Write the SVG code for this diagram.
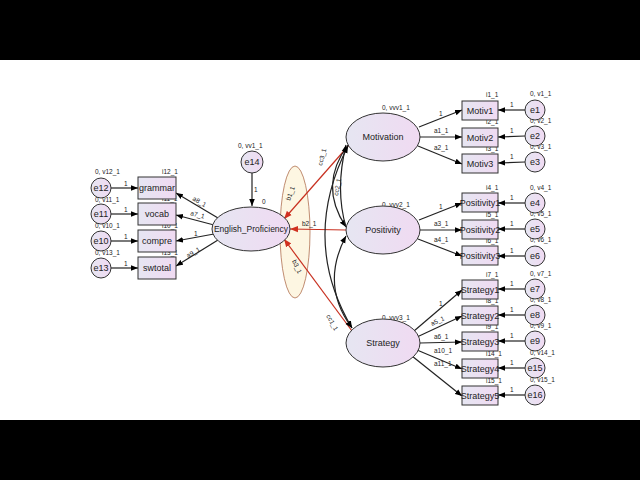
<svg xmlns="http://www.w3.org/2000/svg" width="640" height="480" viewBox="0 0 640 480">
<defs>
<linearGradient id="g" x1="0" x2="1" y1="0" y2="0"><stop offset="0" stop-color="#e6e6f2"/><stop offset="1" stop-color="#f0daf2"/></linearGradient>
<marker id="a" viewBox="0 0 10 10" refX="10" refY="5" markerWidth="7" markerHeight="7" orient="auto-start-reverse" markerUnits="userSpaceOnUse"><path d="M0,1 L10,5 L0,9 z" fill="#000"/></marker>
<marker id="r" viewBox="0 0 10 10" refX="10" refY="5" markerWidth="8" markerHeight="8" orient="auto" markerUnits="userSpaceOnUse"><path d="M0,1 L10,5 L0,9 z" fill="#d03020"/></marker>
<style>
.n{fill:url(#g);stroke:#333;stroke-width:1}
text{font-family:"Liberation Sans",Arial,sans-serif;fill:#222}
.t{font-size:9px;text-anchor:middle}
.s{font-size:6.5px;fill:#333}
.c line,.c path{stroke:#222;stroke-width:1.2;fill:none;marker-end:url(#a)}
.c .red{stroke:#c83020;marker-end:url(#r)}
</style>
</defs>
<rect x="0" y="0" width="640" height="60" fill="#000"/>
<rect x="0" y="420" width="640" height="60" fill="#000"/>
<rect x="0" y="60" width="640" height="360" fill="#fff"/>
<ellipse cx="295" cy="232" rx="15" ry="66" fill="#fdf6e2" stroke="#b07050" stroke-width="0.8"/>
<g class="c">
<line x1="111" y1="188" x2="138" y2="188"/><line x1="111" y1="214" x2="138" y2="214"/><line x1="111" y1="241" x2="138" y2="241"/><line x1="111" y1="268" x2="138" y2="268"/>
<line x1="218" y1="218" x2="176" y2="193"/><line x1="214" y1="225" x2="176" y2="215"/><line x1="214" y1="234" x2="176" y2="241"/><line x1="218" y1="240" x2="176" y2="266"/>
<line x1="252" y1="173" x2="252" y2="206"/>
<line class="red" x1="350" y1="144" x2="284" y2="219"/><line class="red" x1="346" y1="230" x2="290" y2="229"/><line class="red" x1="352" y1="331" x2="284" y2="239"/>
<path d="M348,145 Q318,185 346,227"/><path d="M346,145 Q335,190 346,227" style="marker-end:none;marker-start:url(#a)"/>
<path d="M348,146 Q300,240 352,328" style="marker-start:url(#a)"/>
<path d="M346,236 Q320,285 352,328" style="marker-start:url(#a)"/>
<line x1="419" y1="127" x2="462" y2="110"/><line x1="420" y1="137" x2="462" y2="137"/><line x1="418" y1="146" x2="462" y2="164"/>
<line x1="419" y1="220" x2="462" y2="203"/><line x1="420" y1="230" x2="462" y2="230"/><line x1="418" y1="239" x2="462" y2="256"/>
<line x1="414" y1="331" x2="462" y2="290"/><line x1="417" y1="337" x2="462" y2="316"/><line x1="420" y1="343" x2="462" y2="342"/><line x1="417" y1="350" x2="462" y2="369"/><line x1="412" y1="356" x2="462" y2="396"/>
<line x1="525" y1="110" x2="498" y2="110"/><line x1="525" y1="136" x2="498" y2="137"/><line x1="525" y1="162" x2="498" y2="163"/>
<line x1="525" y1="203" x2="498" y2="203"/><line x1="525" y1="229" x2="498" y2="229"/><line x1="525" y1="256" x2="498" y2="256"/>
<line x1="525" y1="289" x2="498" y2="289"/><line x1="525" y1="315" x2="498" y2="315"/><line x1="525" y1="341" x2="498" y2="341"/><line x1="525" y1="368" x2="498" y2="368"/><line x1="525" y1="395" x2="498" y2="395"/>
</g>
<g class="s">
<text x="124" y="186">1</text><text x="124" y="212">1</text><text x="124" y="239">1</text><text x="124" y="266">1</text>
<text x="192" y="200" transform="rotate(30 192 200)">a8_1</text><text x="190" y="215" transform="rotate(15 190 215)">a7_1</text><text x="194" y="236">1</text><text x="188" y="258" transform="rotate(-30 188 258)">a9_1</text>
<text x="254" y="192">1</text><text x="262" y="204">0</text>
<text x="95" y="174">0, v12_1</text><text x="95" y="202">0, v11_1</text><text x="95" y="228">0, v10_1</text><text x="95" y="255">0, v13_1</text>
<text x="162" y="174">i12_1</text><text x="162" y="201">i11_1</text><text x="162" y="228">i10_1</text><text x="162" y="255">i13_1</text>
<text x="238" y="148">0, vv1_1</text>
<text x="290" y="201" transform="rotate(-70 290 201)">b1_1</text><text x="302" y="226">b2_1</text><text x="292" y="261" transform="rotate(65 292 261)">b3_1</text>
<text x="322" y="166" transform="rotate(-75 322 166)">cc3_1</text><text x="338" y="196" transform="rotate(-80 338 196)">cc2_1</text><text x="326" y="316" transform="rotate(60 326 316)">cc1_1</text>
<text x="382" y="110">0, vvv1_1</text><text x="382" y="207">0, vvv2_1</text><text x="382" y="320">0, vvv3_1</text>
<text x="439" y="116">1</text><text x="434" y="133">a1_1</text><text x="434" y="150">a2_1</text>
<text x="439" y="209">1</text><text x="434" y="226">a3_1</text><text x="434" y="242">a4_1</text>
<text x="439" y="306">1</text><text x="432" y="326" transform="rotate(-25 432 326)">a5_1</text><text x="434" y="339">a6_1</text><text x="434" y="353">a10_1</text><text x="434" y="366">a11_1</text>
<text x="486" y="97">i1_1</text><text x="486" y="124">i2_1</text><text x="486" y="151">i3_1</text>
<text x="486" y="190">i4_1</text><text x="486" y="217">i5_1</text><text x="486" y="243">i6_1</text>
<text x="486" y="277">i7_1</text><text x="486" y="303">i8_1</text><text x="486" y="329">i9_1</text><text x="486" y="356">i14_1</text><text x="486" y="383">i15_1</text>
<text x="510" y="107">1</text><text x="510" y="133">1</text><text x="510" y="159">1</text><text x="510" y="200">1</text><text x="510" y="226">1</text><text x="510" y="253">1</text>
<text x="510" y="286">1</text><text x="510" y="312">1</text><text x="510" y="338">1</text><text x="510" y="365">1</text><text x="510" y="392">1</text>
<text x="530" y="96">0, v1_1</text><text x="530" y="123">0, v2_1</text><text x="530" y="149">0, v3_1</text><text x="530" y="190">0, v4_1</text><text x="530" y="216">0, v5_1</text><text x="530" y="242">0, v6_1</text>
<text x="530" y="276">0, v7_1</text><text x="530" y="302">0, v8_1</text><text x="530" y="328">0, v9_1</text><text x="530" y="355">0, v14_1</text><text x="530" y="382">0, v15_1</text>
</g>
<g id="e12"><circle class="n" cx="101" cy="188" r="10"/><text class="t" x="101" y="191">e12</text></g>
<g id="e11"><circle class="n" cx="101" cy="214" r="10"/><text class="t" x="101" y="217">e11</text></g>
<g id="e10"><circle class="n" cx="101" cy="241" r="10"/><text class="t" x="101" y="244">e10</text></g>
<g id="e13"><circle class="n" cx="101" cy="268" r="10"/><text class="t" x="101" y="271">e13</text></g>
<g id="grammar"><rect class="n" x="138" y="177" width="38" height="22"/><text class="t" x="157" y="191">grammar</text></g>
<g id="vocab"><rect class="n" x="138" y="203" width="38" height="22"/><text class="t" x="157" y="217">vocab</text></g>
<g id="compre"><rect class="n" x="138" y="230" width="38" height="22"/><text class="t" x="157" y="244">compre</text></g>
<g id="swtotal"><rect class="n" x="138" y="257" width="38" height="22"/><text class="t" x="157" y="271">swtotal</text></g>
<g id="e14"><circle class="n" cx="252" cy="162" r="11"/><text class="t" x="252" y="165">e14</text></g>
<g id="EP"><ellipse class="n" cx="251" cy="229" rx="39" ry="22"/><text class="t" x="251" y="232" style="font-size:8.5px">English_Proficiency</text></g>
<g id="Motivation"><ellipse class="n" cx="383" cy="137" rx="37" ry="24"/><text class="t" x="383" y="140">Motivation</text></g>
<g id="Positivity"><ellipse class="n" cx="383" cy="230" rx="37" ry="24"/><text class="t" x="383" y="233">Positivity</text></g>
<g id="Strategy"><ellipse class="n" cx="383" cy="343" rx="37" ry="24"/><text class="t" x="383" y="346">Strategy</text></g>
<g id="Motiv1"><rect class="n" x="462" y="101" width="36" height="19"/><text class="t" x="480" y="114">Motiv1</text></g>
<g id="Motiv2"><rect class="n" x="462" y="128" width="36" height="19"/><text class="t" x="480" y="141">Motiv2</text></g>
<g id="Motiv3"><rect class="n" x="462" y="154" width="36" height="19"/><text class="t" x="480" y="167">Motiv3</text></g>
<g id="Positivity1"><rect class="n" x="462" y="193" width="36" height="19"/><text class="t" x="480" y="206">Positivity1</text></g>
<g id="Positivity2"><rect class="n" x="462" y="220" width="36" height="19"/><text class="t" x="480" y="233">Positivity2</text></g>
<g id="Positivity3"><rect class="n" x="462" y="246" width="36" height="19"/><text class="t" x="480" y="259">Positivity3</text></g>
<g id="Strategy1"><rect class="n" x="462" y="280" width="36" height="19"/><text class="t" x="480" y="293">Strategy1</text></g>
<g id="Strategy2"><rect class="n" x="462" y="306" width="36" height="19"/><text class="t" x="480" y="319">Strategy2</text></g>
<g id="Strategy3"><rect class="n" x="462" y="332" width="36" height="19"/><text class="t" x="480" y="345">Strategy3</text></g>
<g id="Strategy4"><rect class="n" x="462" y="359" width="36" height="19"/><text class="t" x="480" y="372">Strategy4</text></g>
<g id="Strategy5"><rect class="n" x="462" y="386" width="36" height="19"/><text class="t" x="480" y="399">Strategy5</text></g>
<g id="e1"><circle class="n" cx="535" cy="110" r="10"/><text class="t" x="535" y="113">e1</text></g>
<g id="e2"><circle class="n" cx="535" cy="136" r="10"/><text class="t" x="535" y="139">e2</text></g>
<g id="e3"><circle class="n" cx="535" cy="162" r="10"/><text class="t" x="535" y="165">e3</text></g>
<g id="e4"><circle class="n" cx="535" cy="203" r="10"/><text class="t" x="535" y="206">e4</text></g>
<g id="e5"><circle class="n" cx="535" cy="229" r="10"/><text class="t" x="535" y="232">e5</text></g>
<g id="e6"><circle class="n" cx="535" cy="256" r="10"/><text class="t" x="535" y="259">e6</text></g>
<g id="e7"><circle class="n" cx="535" cy="289" r="10"/><text class="t" x="535" y="292">e7</text></g>
<g id="e8"><circle class="n" cx="535" cy="315" r="10"/><text class="t" x="535" y="318">e8</text></g>
<g id="e9"><circle class="n" cx="535" cy="341" r="10"/><text class="t" x="535" y="344">e9</text></g>
<g id="e15"><circle class="n" cx="535" cy="368" r="10"/><text class="t" x="535" y="371">e15</text></g>
<g id="e16"><circle class="n" cx="535" cy="395" r="10"/><text class="t" x="535" y="398">e16</text></g>
</svg>
